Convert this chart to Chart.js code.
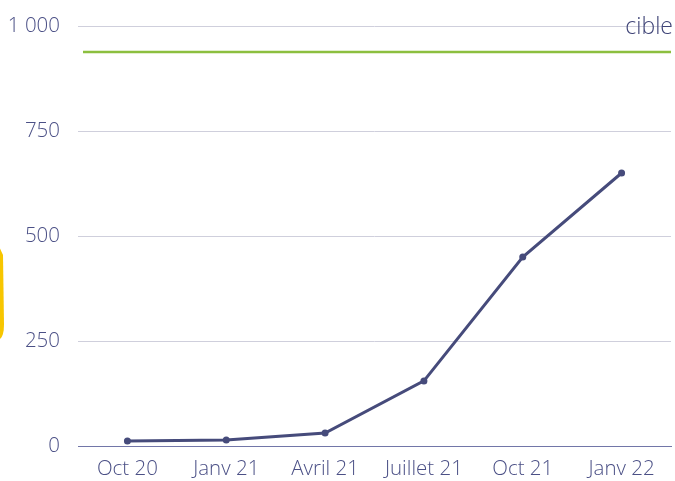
<!DOCTYPE html>
<html>
<head>
<meta charset="utf-8">
<script src="https://cdn.jsdelivr.net/npm/chart.js@4/dist/chart.umd.min.js"></script>
<style>
    html, body { margin: 0; padding: 0; background: #ffffff; }
    #wrap { width: 675px; height: 481px; position: relative; }
</style>
</head>
<body>
<div id="wrap"><canvas id="chart"></canvas></div>
<script>
const categories = ['Oct 20', 'Janv 21', 'Avril 21', 'Juillet 21', 'Oct 21', 'Janv 22'];
const values = [12, 14, 31, 155, 450, 650];
const yTicks = [0, 250, 500, 750, 1000];
const target = 938;
const targetLabel = 'cible';

const textColor = '#4b5086';
const lineColor = '#464b7b';
const tickFont = { family: 'Open Sans', size: 20.5, weight: 300 };

// green target line + label, plus the yellow mark cut at the left edge
const targetPlugin = {
    id: 'target',
    beforeDraw(chart) {
        const ctx = chart.ctx;
        const y = chart.scales.y;
        ctx.save();
        ctx.fillStyle = '#f7c600';
        ctx.beginPath();
        ctx.moveTo(0, y.getPixelForValue(470));
        ctx.lineTo(3, y.getPixelForValue(455));
        ctx.lineTo(4, y.getPixelForValue(290));
        ctx.quadraticCurveTo(4, y.getPixelForValue(262), 0, y.getPixelForValue(255));
        ctx.closePath();
        ctx.fill();
        ctx.restore();
    },
    afterDatasetsDraw(chart) {
        const ctx = chart.ctx;
        const area = chart.chartArea;
        const py = chart.scales.y.getPixelForValue(target);
        ctx.save();
        ctx.strokeStyle = '#8cbf3f';
        ctx.lineWidth = 2.5;
        ctx.beginPath();
        ctx.moveTo(area.left + 5, py);
        ctx.lineTo(area.right, py);
        ctx.stroke();
        ctx.fillStyle = '#3f4477';
        ctx.font = '300 23px "Open Sans"';
        ctx.textAlign = 'right';
        ctx.textBaseline = 'alphabetic';
        ctx.fillText(targetLabel, area.right + 2, chart.scales.y.getPixelForValue(1000) + 8);
        ctx.restore();
    }
};

new Chart(document.getElementById('chart').getContext('2d'), {
    type: 'line',
    data: {
        labels: categories,
        datasets: [{
            data: values,
            borderColor: lineColor,
            backgroundColor: lineColor,
            borderWidth: 3,
            pointRadius: 3.5,
            pointBackgroundColor: lineColor,
            pointBorderWidth: 0,
            tension: 0,
            fill: false
        }]
    },
    options: {
        responsive: true,
        maintainAspectRatio: false,
        animation: false,
        layout: { padding: { top: 26, right: 2, left: 0, bottom: 0 } },
        plugins: {
            legend: { display: false },
            tooltip: { enabled: false }
        },
        scales: {
            x: {
                offset: true,
                grid: { display: false, drawTicks: false },
                border: { color: '#7276a8', width: 1 },
                afterFit: (s) => { s.height = 35; },
                ticks: {
                    color: textColor,
                    font: tickFont,
                    padding: 11,
                    maxRotation: 0
                }
            },
            y: {
                min: 0,
                max: 1000,
                afterBuildTicks: (axis) => { axis.ticks = yTicks.map(v => ({ value: v })); },
                afterFit: (s) => { s.width = 78; s.paddingTop = 0; s.paddingBottom = 0; },
                grid: { color: '#cfcfdc', drawTicks: false },
                border: { display: false },
                ticks: {
                    color: textColor,
                    font: tickFont,
                    padding: 18,
                    callback: (v) => v >= 1000 ? Math.floor(v / 1000) + ' ' + String(v % 1000).padStart(3, '0') : v
                }
            }
        }
    },
    plugins: [targetPlugin]
});
</script>
</body>
</html>
